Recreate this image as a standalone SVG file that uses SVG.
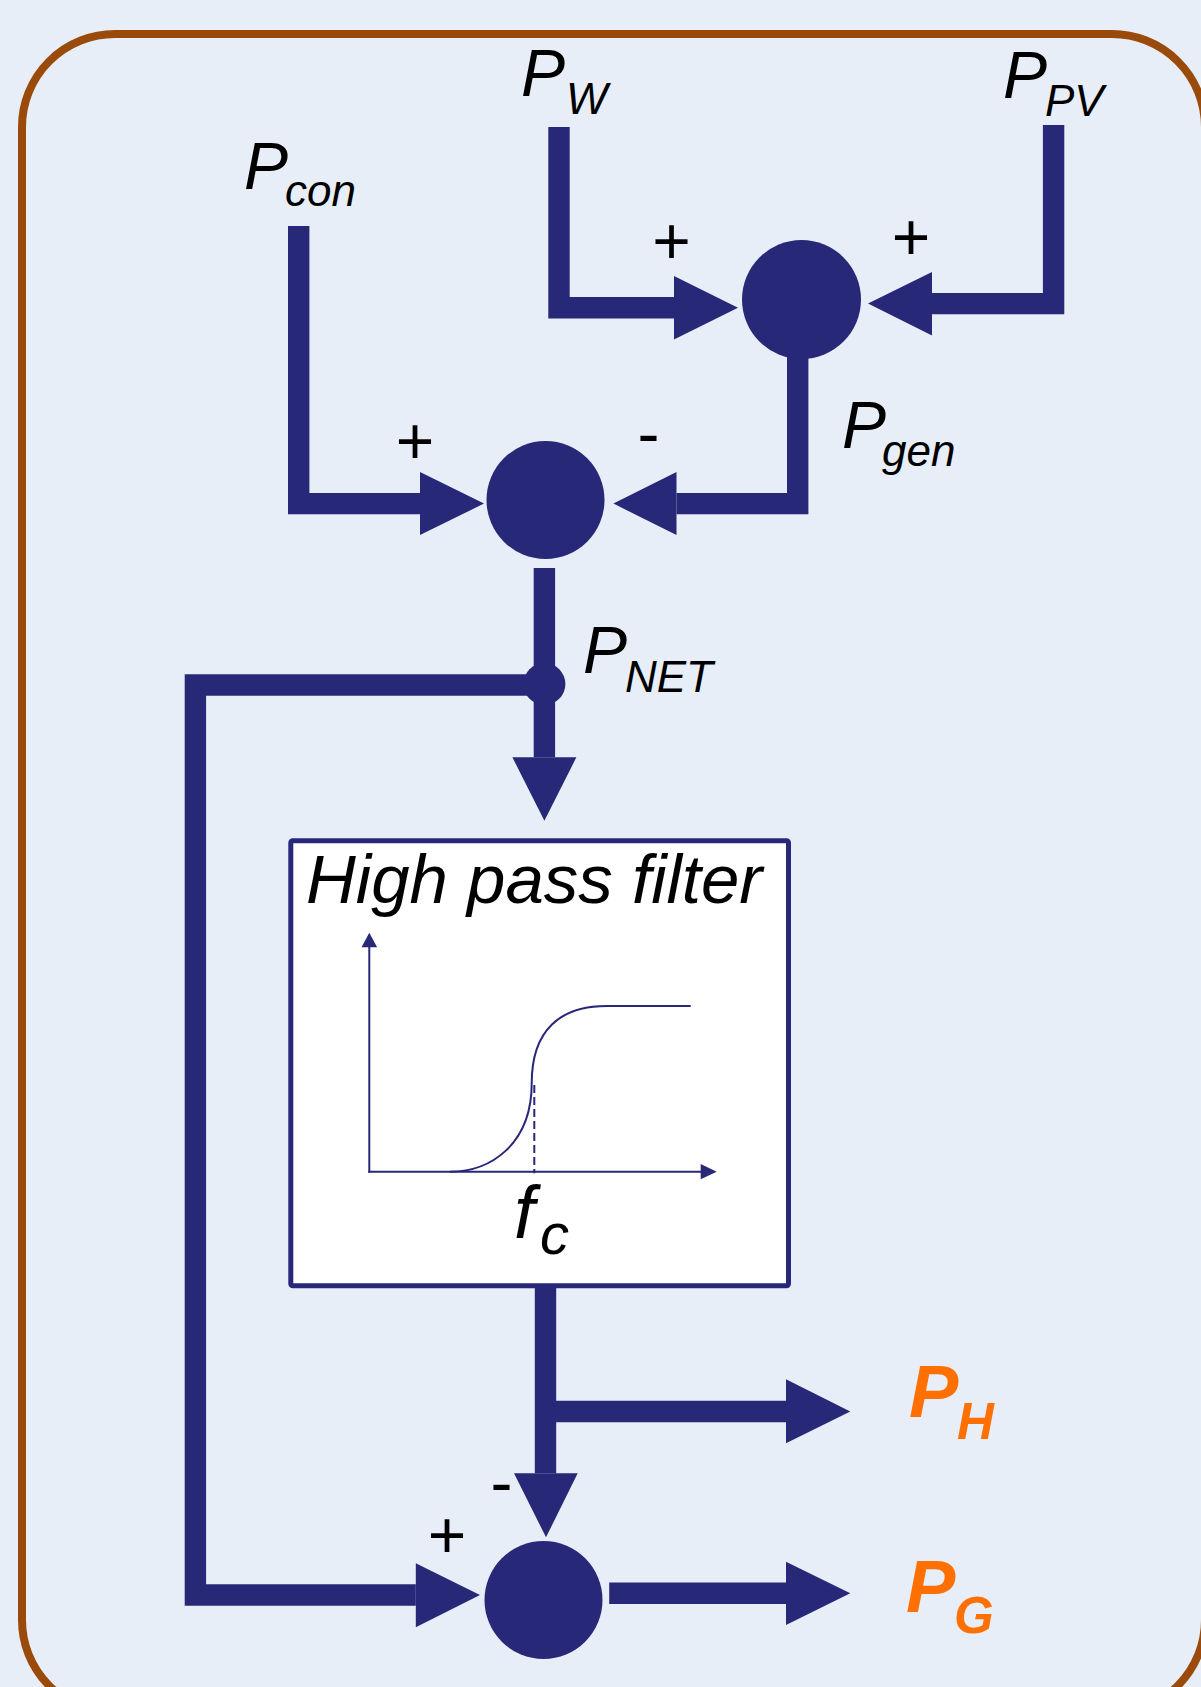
<svg xmlns="http://www.w3.org/2000/svg" width="1201" height="1687" viewBox="0 0 1201 1687">
<style>
.bg{fill:#E8EEF7}
.frame{fill:none;stroke:#9A4A0A;stroke-width:8}
.w{fill:none;stroke:#282879;stroke-width:21.4;stroke-linecap:butt;stroke-linejoin:miter}
.ah{fill:#282879}
.dot{fill:#282879}
.box{fill:#FFFFFF;stroke:#282879;stroke-width:5}
.thin{fill:none;stroke:#282879;stroke-width:2}
.dash{fill:none;stroke:#282879;stroke-width:2;stroke-dasharray:8 4}
.lbl{font-family:"Liberation Sans",Arial,sans-serif;font-style:italic;fill:#000000}
.big{font-size:66px}
.sub{font-size:44px}
.sign{font-family:"Liberation Sans",Arial,sans-serif;font-size:66px;fill:#000000;text-anchor:middle}
.out{font-family:"Liberation Sans",Arial,sans-serif;font-style:italic;font-weight:bold;fill:#FF7000}
</style>
<rect class="bg" x="0" y="0" width="1201" height="1687"/>
<rect class="frame" x="22" y="34" width="1183" height="1679" rx="93" ry="93"/>

<g id="connectors">
  <polyline class="w" points="559,127 559,307.7 674,307.7"/>
  <polygon class="ah" points="674,276 738,307.7 674,339.5"/>
  <polyline class="w" points="1053.6,125 1053.6,303.6 932,303.6"/>
  <polygon class="ah" points="932,272 868,303.6 932,335.5"/>
  <polyline class="w" points="797.7,355 797.7,503.6 676.5,503.6"/>
  <polygon class="ah" points="676.5,472 613.4,503.6 676.5,535"/>
  <polyline class="w" points="298.7,226 298.7,503.6 420,503.6"/>
  <polygon class="ah" points="420,472 484,503.6 420,535"/>
  <line class="w" x1="544.4" y1="568" x2="544.4" y2="757.3"/>
  <polygon class="ah" points="512.4,757.3 544.4,820.7 576.4,757.3"/>
  <polyline class="w" points="544.4,685 195.4,685 195.4,1595 415.8,1595"/>
  <polygon class="ah" points="415.8,1563.3 480,1595 415.8,1627.3"/>
  <line class="w" x1="545.5" y1="1288" x2="545.5" y2="1473.3"/>
  <polygon class="ah" points="514,1473.3 546,1537.3 577.7,1473.3"/>
  <line class="w" x1="545.5" y1="1411.5" x2="786" y2="1411.5"/>
  <polygon class="ah" points="786,1379.3 850.3,1411.5 786,1443.3"/>
  <line class="w" x1="609.2" y1="1593.3" x2="786" y2="1593.3"/>
  <polygon class="ah" points="786,1561.7 850.3,1593.3 786,1625"/>
</g>

<g id="sum-gen">
  <circle class="dot" cx="801.5" cy="299.5" r="59.5"/>
  <text class="sign" x="671.5" y="264">+</text>
  <text class="sign" x="911" y="259.5">+</text>
</g>

<g id="sum-net">
  <circle class="dot" cx="545.5" cy="500" r="59"/>
  <text class="sign" x="415" y="464">+</text>
  <text class="sign" x="648.5" y="456">-</text>
</g>

<g id="junction">
  <circle class="dot" cx="544.4" cy="684" r="21"/>
</g>

<g id="sum-grid">
  <circle class="dot" cx="543.5" cy="1600" r="59"/>
  <text class="sign" x="447" y="1558">+</text>
  <text class="sign" x="501.5" y="1505">-</text>
</g>

<g id="high-pass-filter">
  <rect class="box" x="290.8" y="840.8" width="497.7" height="445" rx="2"/>
  <text class="lbl" x="306" y="902.7" font-size="69">High pass filter</text>
  <line class="thin" x1="369.3" y1="1172.7" x2="369.3" y2="946"/>
  <polygon class="ah" points="361.5,947.3 369.3,932.7 377.1,947.3"/>
  <line class="thin" x1="368.3" y1="1171.7" x2="702" y2="1171.7"/>
  <polygon class="ah" points="700.7,1164 716.7,1171.7 700.7,1179.3"/>
  <path class="thin" d="M450,1171.7 C490,1171.7 531.7,1145 531.7,1083.3 C531.7,1030 560,1006 606.7,1006 L690.7,1006"/>
  <line class="dash" x1="534.3" y1="1085" x2="534.3" y2="1173.3"/>
  <text class="lbl" x="514" y="1238" font-size="74">f<tspan x="540" y="1254" font-size="58">c</tspan></text>
</g>

<g id="label-pw">
  <text class="lbl big" x="521" y="95.7">P<tspan class="sub" x="566" y="113.6">W</tspan></text>
</g>
<g id="label-ppv">
  <text class="lbl big" x="1003" y="98.2">P<tspan class="sub" x="1045" y="116">PV</tspan></text>
</g>
<g id="label-pcon">
  <text class="lbl big" x="244" y="188.6">P<tspan class="sub" x="285" y="206.4">con</tspan></text>
</g>
<g id="label-pgen">
  <text class="lbl big" x="842" y="448">P<tspan class="sub" x="882" y="466">gen</tspan></text>
</g>
<g id="label-pnet">
  <text class="lbl big" x="583" y="673.3">P<tspan class="sub" x="625" y="691.7">NET</tspan></text>
</g>
<g id="output-ph">
  <text class="out" x="909" y="1417" font-size="74">P<tspan x="957" y="1439.3" font-size="51">H</tspan></text>
</g>
<g id="output-pg">
  <text class="out" x="906" y="1612" font-size="74">P<tspan x="954" y="1633.3" font-size="51">G</tspan></text>
</g>
</svg>
